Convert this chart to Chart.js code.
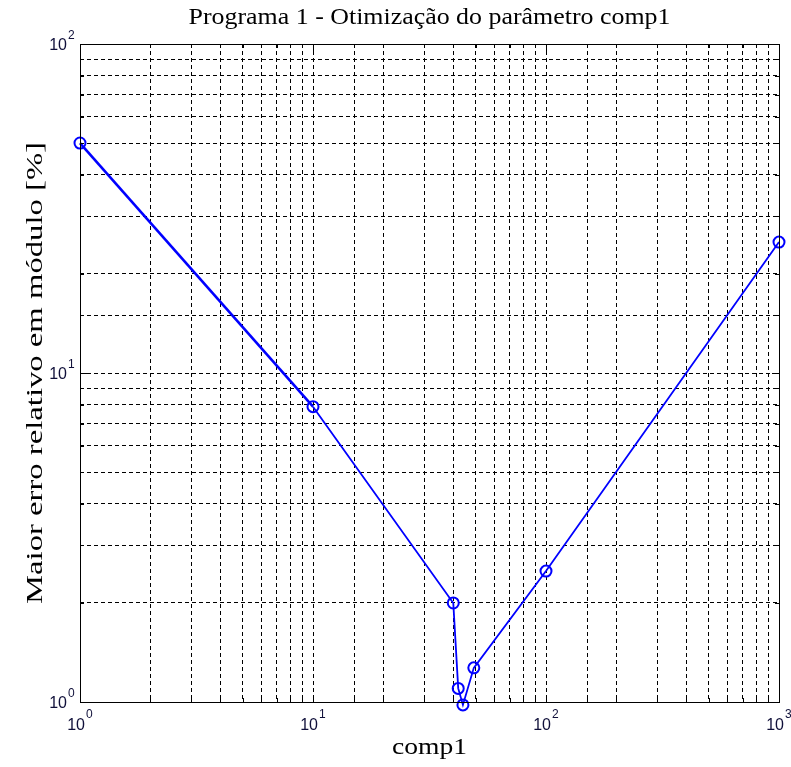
<!DOCTYPE html>
<html>
<head>
<meta charset="utf-8">
<script src="https://cdn.jsdelivr.net/npm/chart.js@4.4.1/dist/chart.umd.min.js"></script>
<style>
  html, body { margin: 0; padding: 0; background: #fff; }
  #wrap { width: 791px; height: 767px; }
</style>
</head>
<body>
<div id="wrap"><canvas id="optChart" width="791" height="767"></canvas></div>
<script>
// comp1 values and the largest relative error [%]
const comp1Values = [1, 10, 40, 42, 44, 49, 100, 1000];
const errValues = [50, 7.9, 2.0, 1.1, 0.98, 1.27, 2.5, 25];
const xRange = [1, 1000];
const yRange = [1, 100];

const titleText = 'Programa 1 - Otimização do parâmetro comp1';
const xTitle = 'comp1';
const yTitle = 'Maior erro relativo em módulo [%]';

function decade(v) {
  const e = Math.log10(v);
  return Math.abs(e - Math.round(e)) < 1e-9 ? Math.round(e) : null;
}

// write text stretched to a given width (the source figure is a bit stretched)
function fitText(ctx, txt, x, y, w) {
  const m = ctx.measureText(txt).width;
  ctx.save();
  ctx.translate(x, y);
  ctx.scale(w / m, 1);
  ctx.fillText(txt, 0, 0);
  ctx.restore();
}

// frame, inner tick marks, 10^n labels and titles like the matlab figure
const framePlugin = {
  id: 'frame',
  afterDraw(chart) {
    const { ctx, chartArea: a, scales } = chart;
    ctx.save();
    ctx.strokeStyle = '#000';
    ctx.lineWidth = 1;
    ctx.setLineDash([]);
    ctx.beginPath();
    scales.x.ticks.forEach(t => {
      const px = Math.round(scales.x.getPixelForValue(t.value)) + 0.5;
      const len = decade(t.value) !== null ? 7 : 4;
      ctx.moveTo(px, a.bottom); ctx.lineTo(px, a.bottom - len);
      ctx.moveTo(px, a.top); ctx.lineTo(px, a.top + len);
    });
    scales.y.ticks.forEach(t => {
      const py = Math.round(scales.y.getPixelForValue(t.value)) + 0.5;
      const len = decade(t.value) !== null ? 7 : 4;
      ctx.moveTo(a.left, py); ctx.lineTo(a.left + len, py);
      ctx.moveTo(a.right, py); ctx.lineTo(a.right - len, py);
    });
    ctx.stroke();
    ctx.strokeRect(Math.round(a.left) + 0.5, Math.round(a.top) + 0.5,
      Math.round(a.right - a.left), Math.round(a.bottom - a.top));

    // tick labels with superscript exponents
    ctx.fillStyle = '#10103a';
    ctx.textBaseline = 'alphabetic';
    const big = '16px "Liberation Sans", Arial, sans-serif';
    const small = '12px "Liberation Sans", Arial, sans-serif';
    scales.x.ticks.forEach(t => {
      const e = decade(t.value);
      if (e === null) return;
      const px = scales.x.getPixelForValue(t.value);
      ctx.font = big; ctx.textAlign = 'right';
      ctx.fillText('10', px + 5, a.bottom + 28);
      ctx.font = small; ctx.textAlign = 'left';
      ctx.fillText(String(e), px + 6, a.bottom + 16);
    });
    scales.y.ticks.forEach(t => {
      const e = decade(t.value);
      if (e === null) return;
      const py = scales.y.getPixelForValue(t.value);
      ctx.font = big; ctx.textAlign = 'right';
      ctx.fillText('10', a.left - 13, py + 6);
      ctx.font = small; ctx.textAlign = 'left';
      ctx.fillText(String(e), a.left - 12, py - 5);
    });

    ctx.fillStyle = '#000';
    ctx.font = '24px "Liberation Serif", "Times New Roman", serif';
    ctx.textAlign = 'center';
    ctx.textBaseline = 'middle';
    const cx = (a.left + a.right) / 2;
    fitText(ctx, titleText, cx, 18, 482);
    fitText(ctx, xTitle, cx, 748, 75);
    ctx.translate(36, (a.top + a.bottom) / 2);
    ctx.rotate(-Math.PI / 2);
    fitText(ctx, yTitle, 0, 0, 462);
    ctx.restore();
  }
};

new Chart(document.getElementById('optChart'), {
  type: 'line',
  data: {
    datasets: [{
      data: comp1Values.map((x, i) => ({ x: x, y: errValues[i] })),
      borderColor: '#0000FF',
      borderWidth: 1.8,
      segment: { borderWidth: c => c.p0DataIndex === 0 ? 2.6 : 1.8 },
      pointStyle: 'circle',
      pointRadius: 5.5,
      pointBorderWidth: 2,
      pointBorderColor: '#0000FF',
      pointBackgroundColor: 'rgba(0,0,0,0)',
      tension: 0,
      clip: false
    }]
  },
  options: {
    responsive: false,
    animation: false,
    layout: { padding: { top: 44, right: 12, left: 0, bottom: 0 } },
    plugins: { legend: { display: false }, tooltip: { enabled: false }, title: { display: false } },
    scales: {
      x: {
        type: 'logarithmic',
        min: xRange[0], max: xRange[1],
        grid: { color: '#000', lineWidth: 1, drawTicks: false },
        border: { display: false, dash: [4, 3] },
        // labels are painted by the frame plugin
        ticks: { color: 'rgba(0,0,0,0)', padding: 10, maxRotation: 0, autoSkip: false, callback: () => '' },
        afterFit: s => { s.height = 65; }
      },
      y: {
        type: 'logarithmic',
        min: yRange[0], max: yRange[1],
        grid: { color: '#000', lineWidth: 1, drawTicks: false },
        border: { display: false, dash: [4, 3] },
        ticks: { color: 'rgba(0,0,0,0)', padding: 6, autoSkip: false, callback: () => '' },
        afterFit: s => { s.width = 80; }
      }
    }
  },
  plugins: [framePlugin]
});
</script>
</body>
</html>
